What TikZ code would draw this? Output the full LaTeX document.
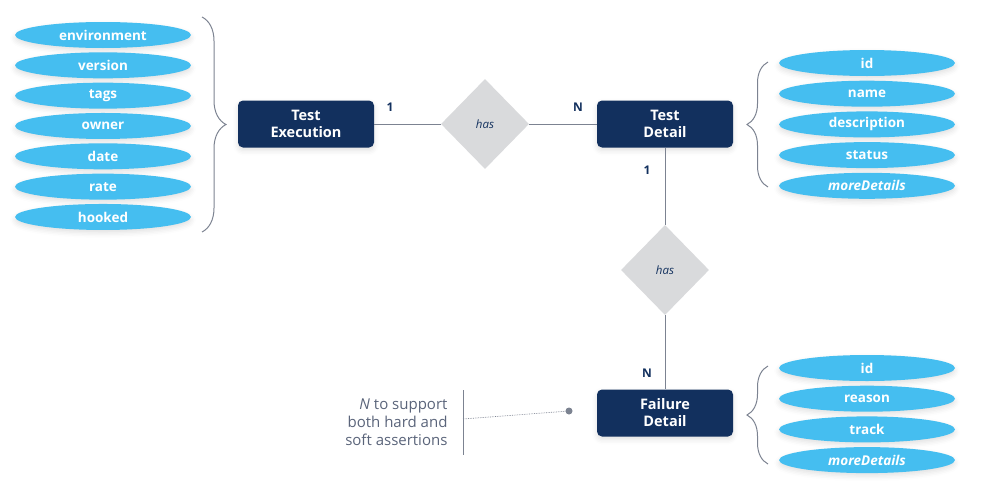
\documentclass[tikz,border=0pt]{standalone}
\usepackage{fontspec}
\setmainfont{Open Sans}
\usetikzlibrary{positioning,shapes.geometric,decorations.pathreplacing,shadows.blur}

\definecolor{navy}{HTML}{12305E}
\definecolor{skyblue}{HTML}{45BEF0}
\definecolor{relgray}{HTML}{D9DADC}
\definecolor{notegray}{HTML}{5A647A}
\definecolor{linegray}{HTML}{7C8391}

\tikzset{
  soft/.style={blur shadow={shadow xshift=0pt,shadow yshift=-3pt,shadow blur radius=5pt,shadow opacity=12}},
  attr/.style={ellipse,fill=skyblue,minimum width=176pt,minimum height=26pt,inner sep=0pt,
    text=white,font=\fontsize{13.5}{15}\selectfont\bfseries,soft},
  entity/.style={rounded corners=5pt,fill=navy,minimum width=136pt,minimum height=47pt,
    text=white,align=center,font=\fontsize{14.5}{17}\selectfont\bfseries,soft},
  rel/.style={diamond,fill=relgray,minimum width=88pt,minimum height=90pt,inner sep=0pt,
    text=navy,font=\fontsize{11.5}{13}\selectfont\itshape},
  card/.style={text=navy,font=\fontsize{12}{14}\selectfont\bfseries},
  link/.style={draw=linegray,line width=0.8pt},
  curly/.style={draw=linegray,line width=1pt,decorate,decoration={brace,amplitude=#1}},
}

\begin{document}
\begin{tikzpicture}[x=1pt,y=-1pt]
\useasboundingbox (0,0) rectangle (982,498);

% entities
\node[entity] (exec) at (306,124) {Test\\Execution};
\node[entity] (detail) at (665,124) {Test\\Detail};
\node[entity] (fail) at (665,413) {Failure\\Detail};

% relationships
\node[rel] (has1) at (485,124) {has};
\node[rel] (has2) at (665,270) {has};

\draw[link] (exec) -- (has1) -- (detail);
\draw[link] (detail) -- (has2) -- (fail);

\node[card] (c1) at (390,107) {1};
\node[card] (c2) at (578,107) {N};
\node[card] (c3) at (647,170) {1};
\node[card] (c4) at (647,373) {N};

% attributes
\foreach \lbl [count=\i from 0] in {environment,version,tags,owner,date,rate,hooked}
  \node[attr] (ex\i) at (103,35+30.33*\i) {\lbl};
\foreach \lbl [count=\i from 0] in {id,name,description,status,\textit{moreDetails}}
  \node[attr] (de\i) at (867,63+30.7*\i) {\lbl};
\foreach \lbl [count=\i from 0] in {id,reason,track,\textit{moreDetails}}
  \node[attr] (fa\i) at (867,368+30.7*\i) {\lbl};

% braces
\draw[curly=24pt] (202,17) -- (202,232);
\draw[curly=21pt] (768,187) -- (768,62);
\draw[curly=21pt] (768,464) -- (768,366);

% note
\node[anchor=east,align=right,text=notegray,font=\fontsize{15}{18}\selectfont] (note) at (451,422)
  {\textit{N} to support\\both hard and\\soft assertions};
\coordinate (bartop) at (463,390);
\coordinate (barbot) at (463,455);
\coordinate (barmid) at (463,419);
\node[circle,fill=linegray,inner sep=0pt,minimum size=7pt] (pin) at (569,411) {};
\draw[draw=linegray,line width=0.9pt] (bartop) -- (barbot);
\draw[draw=linegray,line width=0.7pt,densely dotted] (barmid) -- (pin);
\end{tikzpicture}
\end{document}
